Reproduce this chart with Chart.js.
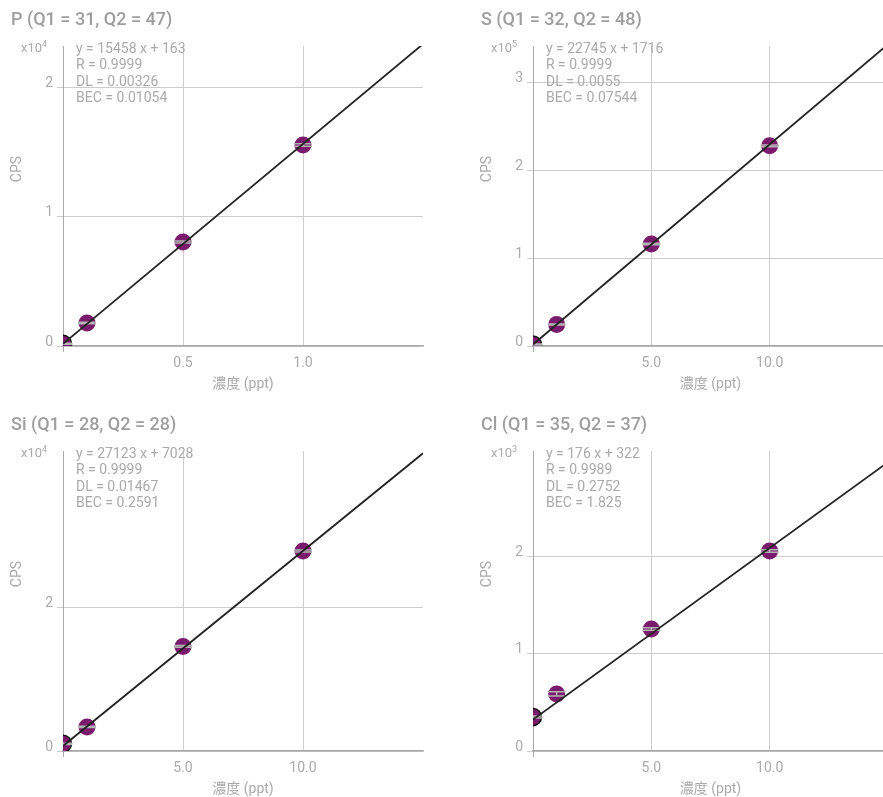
<!DOCTYPE html>
<html><head><meta charset="utf-8">
<script src="https://cdn.jsdelivr.net/npm/chart.js@4.4.1/dist/chart.umd.min.js"></script>
<style>
html{margin:0;padding:0;width:883px;height:797px;overflow:hidden;background:#fff;}
body{margin:0;padding:0;width:1000px;height:797px;overflow:hidden;background:#fff;font-family:Roboto,"Noto Sans CJK JP",sans-serif;position:relative;}
.panel{position:absolute;width:440px;height:400px;}
.panel canvas{position:absolute;left:0;top:0;}
.title{position:absolute;left:11px;top:8px;font-size:18px;line-height:22px;font-weight:500;color:#9e9e9e;white-space:nowrap;}
.mult{position:absolute;left:21px;top:40px;font-size:13px;line-height:16px;color:#aaa;white-space:nowrap;}
.mult sup{font-size:9px;vertical-align:5px;line-height:0;}
.ann{position:absolute;left:76px;top:40px;font-size:14px;line-height:16.4px;color:#aaa;white-space:pre;}
</style></head>
<body>
<script>
// ---- data ----
const titles = ['P (Q1 = 31, Q2 = 47)', 'S (Q1 = 32, Q2 = 48)', 'Si (Q1 = 28, Q2 = 28)', 'Cl (Q1 = 35, Q2 = 37)'];
const multExp = ['4', '5', '4', '3'];
const slopes = [15458, 22745, 27123, 176];
const intercepts = [163, 1716, 7028, 322];
const rVals = ['0.9999', '0.9999', '0.9999', '0.9989'];
const dlVals = ['0.00326', '0.0055', '0.01467', '0.2752'];
const becVals = ['0.01054', '0.07544', '0.2591', '1.825'];

const concP = [0, 0.1, 0.5, 1.0];
const cpsP = [170, 1780, 8040, 15550];
const errP = [40, 60, 80, 100];
const concS = [0, 1, 5, 10];
const cpsS = [1716, 24500, 116000, 227500];
const errS = [500, 600, 800, 1000];
const concSi = [0, 1, 5, 10];
const cpsSi = [10000, 33500, 145300, 278000];
const errSi = [800, 1000, 1200, 1400];
const concCl = [0, 1, 5, 10];
const cpsCl = [349, 585, 1251, 2051];
const errCl = [10, 22, 12, 12];

const xMaxes = [1.5, 15, 15, 15];
const yMaxes = [23200, 341000, 417000, 3077];
const xTickVals = [[0, 0.5, 1.0], [0, 5, 10], [0, 5, 10], [0, 5, 10]];
const xTickLabels = [['', '0.5', '1.0'], ['', '5.0', '10.0'], ['', '5.0', '10.0'], ['', '5.0', '10.0']];
const yTickVals = [[0, 10000, 20000], [0, 100000, 200000, 300000], [0, 200000], [0, 1000, 2000]];
const yTickLabels = [['0', '1', '2'], ['0', '1', '2', '3'], ['0', '2'], ['0', '1', '2']];
const xTitle = '濃度 (ppt)';
const yTitle = 'CPS';

const concs = [concP, concS, concSi, concCl];
const cpss = [cpsP, cpsS, cpsSi, cpsCl];
const errs = [errP, errS, errSi, errCl];

// ---- layout ----
const panelPos = [[0, 0], [470, 0], [0, 405], [470, 405]];
const canvasW = [440, 428, 440, 428];
const padRight = [17, 2, 17, 2];

const GRID = '#cdcdcd', AXIS = '#a9a9a9', TXT = '#aaaaaa';
const FONT = 'Roboto, "Noto Sans CJK JP", sans-serif';

const deco = {
  id: 'deco',
  afterDatasetDraw(chart, args, o) {
    if (args.index !== 1) return;
    const {ctx, chartArea: a} = chart;
    const x = chart.scales.x, y = chart.scales.y;
    ctx.save();
    ctx.beginPath(); ctx.rect(a.left, a.top, a.right - a.left, a.bottom - a.top); ctx.clip();
    ctx.strokeStyle = '#b4b4b4'; ctx.lineWidth = 1.5;
    o.conc.forEach((c, i) => {
      const px = x.getPixelForValue(c);
      const y1 = y.getPixelForValue(o.cps[i] + o.err[i]);
      const y2 = y.getPixelForValue(o.cps[i] - o.err[i]);
      ctx.beginPath();
      ctx.moveTo(px - 9, y1); ctx.lineTo(px + 9, y1);
      ctx.moveTo(px - 9, y2); ctx.lineTo(px + 9, y2);
      ctx.moveTo(px, y1); ctx.lineTo(px, y2);
      ctx.stroke();
    });
    ctx.restore();
  },
  afterDraw(chart) {
    const {ctx, chartArea: a} = chart;
    ctx.save();
    ctx.translate(a.left - 46, a.top + 123);
    ctx.rotate(-Math.PI / 2);
    ctx.font = '14px ' + FONT; ctx.fillStyle = TXT; ctx.textAlign = 'center'; ctx.textBaseline = 'middle';
    ctx.fillText(yTitle, 0, 0);
    ctx.restore();
  }
};

for (let k = 0; k < 4; k++) {
  const div = document.createElement('div');
  div.className = 'panel';
  div.style.left = panelPos[k][0] + 'px';
  div.style.top = panelPos[k][1] + 'px';
  div.style.width = canvasW[k] + 'px';
  const cv = document.createElement('canvas');
  cv.width = canvasW[k]; cv.height = 400;
  cv.style.width = canvasW[k] + 'px'; cv.style.height = '400px';
  div.appendChild(cv);
  const t = document.createElement('div'); t.className = 'title'; t.textContent = titles[k]; div.appendChild(t);
  const m = document.createElement('div'); m.className = 'mult'; m.innerHTML = 'x10<sup>' + multExp[k] + '</sup>'; div.appendChild(m);
  const an = document.createElement('div'); an.className = 'ann';
  an.textContent = 'y = ' + slopes[k] + ' x + ' + intercepts[k] + '\nR = ' + rVals[k] + '\nDL = ' + dlVals[k] + '\nBEC = ' + becVals[k];
  div.appendChild(an);
  document.body.appendChild(div);

  const xm = xMaxes[k];
  const conc = concs[k], cps = cpss[k];
  new Chart(cv, {
    type: 'scatter',
    data: {
      datasets: [
        {
          data: [{x: 0, y: intercepts[k]}, {x: xm, y: slopes[k] * xm + intercepts[k]}],
          showLine: true, borderColor: '#222222', borderWidth: 1.8, pointRadius: 0, fill: false, clip: 0
        },
        {
          data: conc.map((c, i) => ({x: c, y: cps[i]})),
          backgroundColor: '#7b1b6e', pointRadius: 8.5, pointHoverRadius: 8.5,
          pointBorderColor: '#111111', pointBorderWidth: conc.map(c => c === 0 ? 1.5 : 0), clip: 0
        }
      ]
    },
    options: {
      responsive: false, animation: false, devicePixelRatio: 1,
      layout: {padding: {left: 0, top: 46, right: padRight[k], bottom: 0}},
      plugins: {
        legend: {display: false}, tooltip: {enabled: false},
        deco: {conc: conc, cps: cps, err: errs[k]}
      },
      scales: {
        x: {
          type: 'linear', min: 0, max: xm,
          afterBuildTicks: s => { s.ticks = xTickVals[k].map(v => ({value: v})); },
          afterFit: s => { s.height = 54; s.paddingLeft = 0; s.paddingRight = 0; },
          grid: {color: GRID, lineWidth: 1, drawTicks: true, tickLength: 6,
            tickColor: c => (c.tick && c.tick.value === 0) ? AXIS : 'rgba(0,0,0,0)'},
          border: {color: AXIS, width: 1.5},
          ticks: {color: TXT, font: {family: FONT, size: 14}, padding: 3, maxRotation: 0, autoSkip: false,
            callback: (v, i) => xTickLabels[k][i]},
          title: {display: true, text: xTitle, color: TXT, font: {family: FONT, size: 14}, padding: {top: 0, bottom: 7}}
        },
        y: {
          type: 'linear', min: 0, max: yMaxes[k],
          afterBuildTicks: s => { s.ticks = yTickVals[k].map(v => ({value: v})); },
          afterFit: s => { s.width = 63; s.paddingTop = 0; s.paddingBottom = 0; },
          grid: {color: GRID, lineWidth: 1, drawTicks: true, tickLength: 6, tickColor: GRID},
          border: {color: AXIS, width: 1},
          ticks: {color: TXT, font: {family: FONT, size: 14}, padding: 4, labelOffset: -4,
            callback: (v, i) => yTickLabels[k][i]}
        }
      }
    },
    plugins: [deco]
  });
}
</script>
</body></html>
